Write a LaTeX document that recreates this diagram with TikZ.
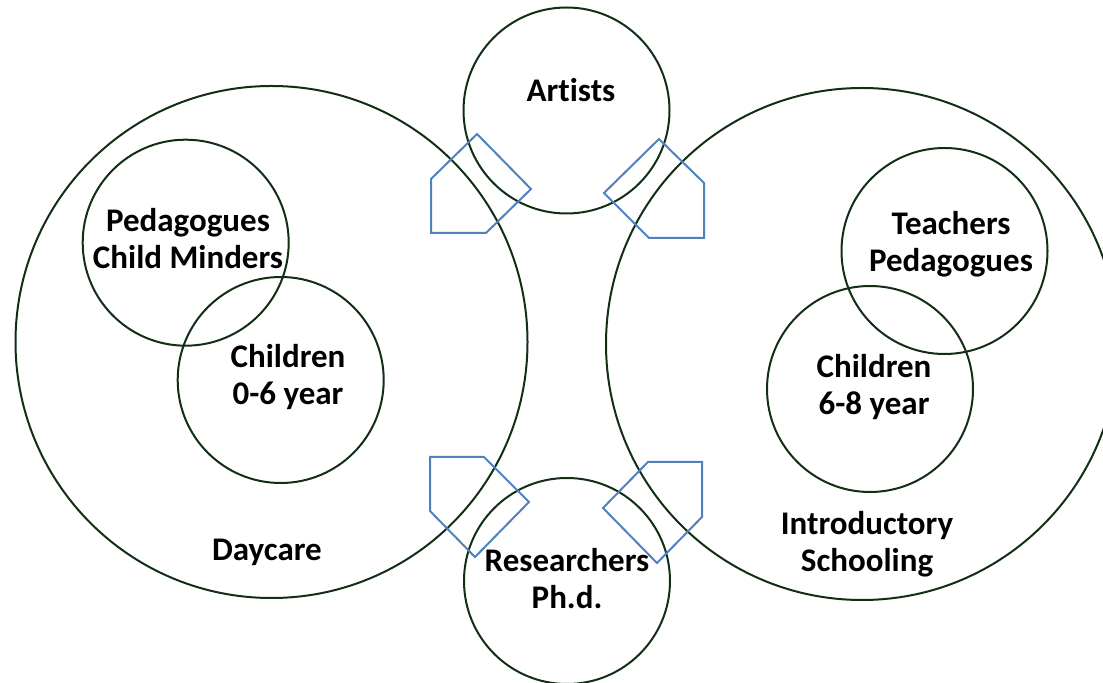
\documentclass[tikz,border=0pt]{standalone}
\usepackage{fontspec}
\setmainfont{Carlito}[Ligatures=NoCommon]
\definecolor{ringgreen}{RGB}{18,46,20}
\definecolor{pentblue}{RGB}{79,129,189}

\begin{document}
\begin{tikzpicture}[x=0.5pt, y=-0.5pt,
    bigring/.style={circle, draw=ringgreen, line width=1pt, inner sep=0pt, minimum size=256pt},
    smallring/.style={circle, draw=ringgreen, line width=1pt, inner sep=0pt, minimum size=103pt},
    pent/.style={draw=pentblue, line width=1pt, line join=miter},
    lbl/.style={font=\bfseries\fontsize{16.5}{18.5}\selectfont, align=center, inner sep=0pt}]

    \useasboundingbox (0,0) rectangle (1103,683);
    \clip (0,0) rectangle (1103,683);

	% the two settings
	\node[bigring] (daycare) at (271.5,342) {};
	\node[bigring] (school) at (862,344) {};

	% groups inside them
	\node[smallring] (pedag) at (185.7,242.7) {};
	\node[smallring] (young) at (280.7,380) {};
	\node[smallring] (teach) at (944.5,251) {};
	\node[smallring] (older) at (870,389) {};

	% the two in between
	\node[smallring] (artists) at (566.5,110.5) {};
	\node[smallring] (research) at (567,581) {};

	% blue arrows
	\draw[pent] (431,233) -- (431,179) -- (477,134) -- (531,189) -- (486,233) -- cycle;
	\draw[pent] (704,238) -- (649,238) -- (604,193) -- (659,139) -- (704,183) -- cycle;
	\draw[pent] (430,457) -- (484,457) -- (529,502) -- (475,557) -- (430,511) -- cycle;
	\draw[pent] (702,462) -- (702,517) -- (657,563) -- (603,508) -- (648,462) -- cycle;

	\node[lbl] (artists-txt) at (571,90) {Artists};
	\node[lbl] (pedag-txt) at (188,239) {Pedagogues\\Child Minders};
	\node[lbl] (young-txt) at (288,377) {Children\\0-6 year};
	\node[lbl] (daycare-txt) at (267,552) {Daycare};
	\node[lbl] (research-txt) at (567,579) {Researchers\\Ph.d.};
	\node[lbl] (teach-txt) at (951,244) {Teachers\\Pedagogues};
	\node[lbl] (older-txt) at (874,387) {Children\\6-8 year};
	\node[lbl] (school-txt) at (867,544) {Introductory\\Schooling};

\end{tikzpicture}
\end{document}
